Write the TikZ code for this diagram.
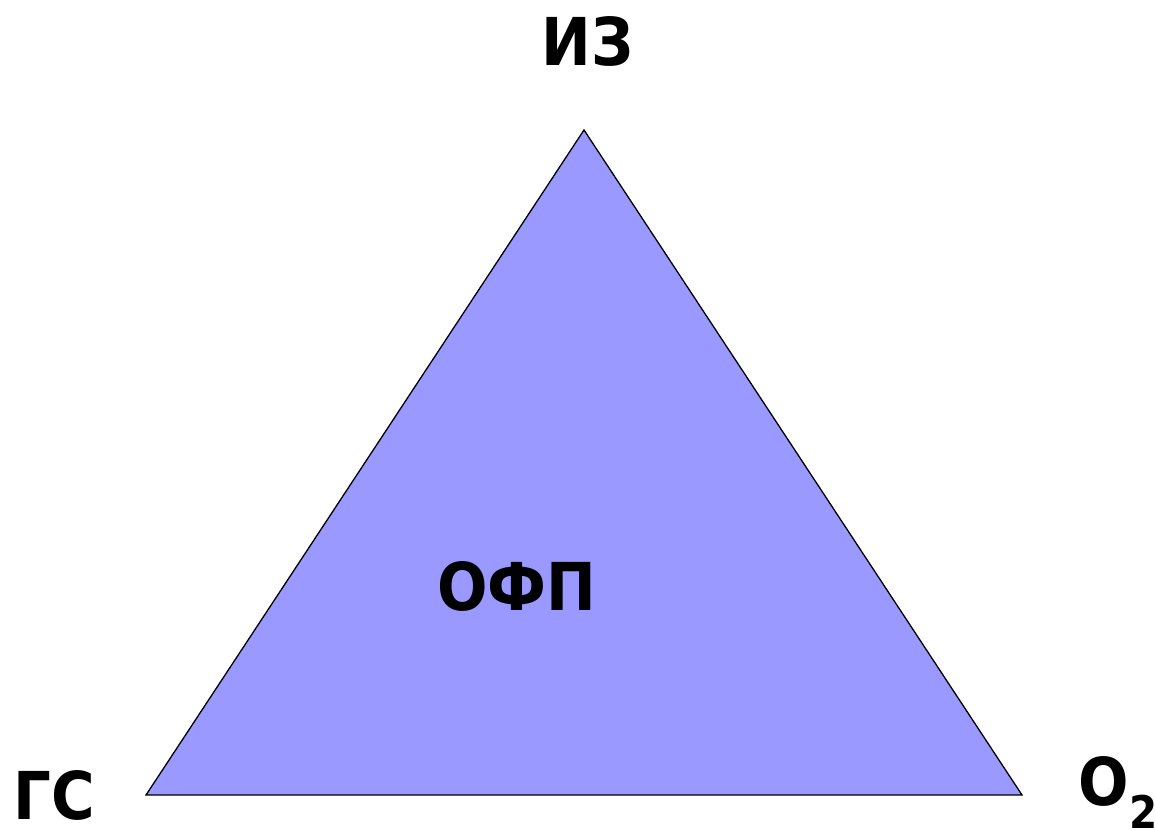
\documentclass[tikz,border=0pt]{standalone}
\usepackage{fontspec}
\setmainfont{DejaVu Sans Condensed}
\definecolor{trifill}{HTML}{9999FF}
\begin{document}
\begin{tikzpicture}[x=1pt,y=-1pt,
  lbl/.style={inner sep=0pt,anchor=base,font=\bfseries\fontsize{66}{72}\selectfont}]
\useasboundingbox (0,0) rectangle (1155,830);
\coordinate (A) at (584,130);
\coordinate (B) at (146,795);
\coordinate (C) at (1022,795);
\draw[fill=trifill,line width=1.3pt,line join=miter] (A) -- (B) -- (C) -- cycle;
\node[lbl] (iz) at (587.5,65) {ИЗ};
\node[lbl] (gs) at (54.5,819) {ГС};
\node[lbl] (ofp) at (517,610) {ОФП};
\node[lbl,anchor=base west] (o2) at (1078,805) {О\kern1pt\raisebox{-23pt}{\bfseries\fontsize{45}{50}\selectfont 2}};
\end{tikzpicture}
\end{document}
